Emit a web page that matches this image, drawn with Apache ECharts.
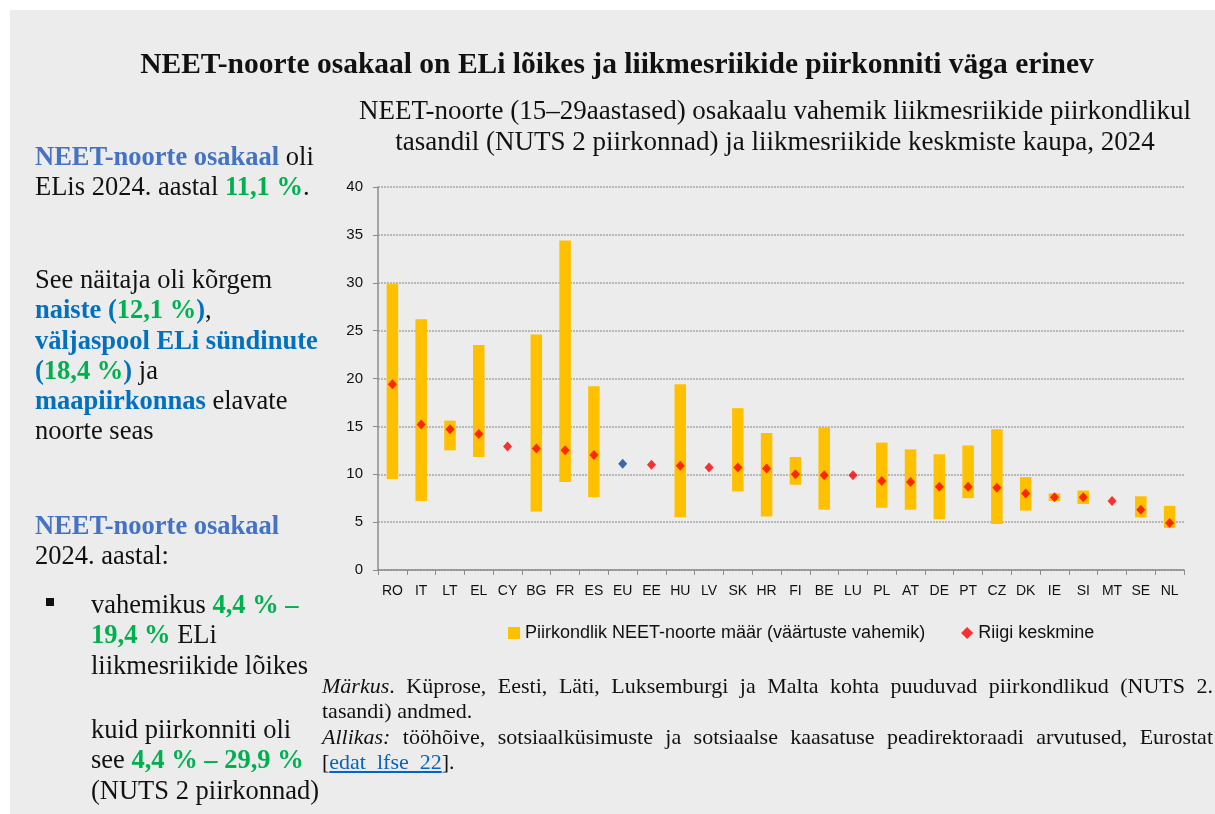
<!DOCTYPE html>
<html lang="et">
<head>
<meta charset="utf-8">
<title>NEET-noorte osakaal</title>
<script src="https://cdn.jsdelivr.net/npm/echarts@6/dist/echarts.min.js"></script>
<style>
    html, body { margin: 0; padding: 0; background: #ffffff; }
    #page { position: absolute; left: 10px; top: 10px; width: 1205px; height: 804px; background: #ececec; }
    #chart-main { position: absolute; left: 0; top: 0; width: 1215px; height: 814px; }
    .side { position: absolute; left: 35px; font-family: 'Liberation Serif', 'Times New Roman', serif; font-size: 26.5px; line-height: 30.3px; color: #111; white-space: nowrap; }
    .lb { color: #4472c4; font-weight: bold; }
    .db { color: #0070c0; font-weight: bold; }
    .gr { color: #00b050; font-weight: bold; }
    .bullet { position: absolute; left: 46px; top: 598px; width: 8px; height: 8px; background: #111; }
    .notes { position: absolute; left: 322px; top: 673px; width: 891px; font-family: 'Liberation Serif', 'Times New Roman', serif; font-size: 22px; line-height: 25.4px; color: #111; text-align: justify; }
    .notes p { margin: 0; }
    .notes a { color: #0563c1; text-decoration: underline; }
</style>
</head>
<body>
<div id="page"></div>
<div id="chart-main"></div>

<div class="side" style="top:141px;">
    <span class="lb">NEET-noorte osakaal</span> oli<br>
    ELis 2024. aastal <span class="gr">11,1 %</span>.
</div>
<div class="side" style="top:264px;">
    See näitaja oli kõrgem<br>
    <span class="db">naiste (</span><span class="gr">12,1 %</span><span class="db">)</span>,<br>
    <span class="db">väljaspool ELi sündinute</span><br>
    <span class="db">(</span><span class="gr">18,4 %</span><span class="db">)</span> ja<br>
    <span class="db">maapiirkonnas</span> elavate<br>
    noorte seas
</div>
<div class="side" style="top:510px;">
    <span class="lb">NEET-noorte osakaal</span><br>
    2024. aastal:
</div>
<div class="bullet"></div>
<div class="side" style="left:91px; top:589px;">
    vahemikus <span class="gr">4,4 % –</span><br>
    <span class="gr">19,4 %</span> ELi<br>
    liikmesriikide lõikes
</div>
<div class="side" style="left:91px; top:714px;">
    kuid piirkonniti oli<br>
    see <span class="gr">4,4 % – 29,9 %</span><br>
    (NUTS 2 piirkonnad)
</div>

<div class="notes">
    <p><i>Märkus</i>. Küprose, Eesti, Läti, Luksemburgi ja Malta kohta puuduvad piirkondlikud (NUTS 2. tasandi) andmed.</p>
    <p><i>Allikas:</i> tööhõive, sotsiaalküsimuste ja sotsiaalse kaasatuse peadirektoraadi arvutused, Eurostat [<a href="#">edat_lfse_22</a>].</p>
</div>

<script>
// categories and values
const countries = ['RO', 'IT', 'LT', 'EL', 'CY', 'BG', 'FR', 'ES', 'EU', 'EE', 'HU', 'LV', 'SK', 'HR', 'FI',
    'BE', 'LU', 'PL', 'AT', 'DE', 'PT', 'CZ', 'DK', 'IE', 'SI', 'MT', 'SE', 'NL'];
// regional minimum / maximum (null = no NUTS 2 data)
const regionMin = [9.5, 7.2, 12.5, 11.8, null, 6.1, 9.2, 7.6, null, null, 5.5, null, 8.2, 5.6, 8.9,
    6.3, null, 6.5, 6.3, 5.3, 7.5, 4.8, 6.2, 7.2, 6.9, null, 5.5, 4.4];
const regionMax = [29.9, 26.2, 15.6, 23.5, null, 24.6, 34.4, 19.2, null, null, 19.4, null, 16.9, 14.3, 11.8,
    14.9, null, 13.3, 12.6, 12.1, 13.0, 14.7, 9.7, 8.0, 8.3, null, 7.7, 6.7];
// national average
const countryAvg = [19.4, 15.2, 14.7, 14.2, 12.9, 12.7, 12.5, 12.0, 11.1, 11.0, 10.9, 10.7, 10.7, 10.6, 10.0,
    9.9, 9.9, 9.3, 9.2, 8.7, 8.7, 8.6, 8.0, 7.6, 7.6, 7.2, 6.3, 4.9];
const yTicks = [0, 5, 10, 15, 20, 25, 30, 35, 40];

const chartDom = document.getElementById('chart-main');
const myChart = echarts.init(chartDom, null, { renderer: 'canvas' });

const axisFont = "'Liberation Sans', Arial, sans-serif";
const serif = "'Liberation Serif', 'Times New Roman', serif";

// floating bars: invisible base up to the regional minimum, then the span to the maximum
const baseData = regionMin.map(v => v === null ? '-' : v);
const spanData = regionMax.map((v, i) => v === null ? '-' : Math.round((v - regionMin[i]) * 10) / 10);

const option = {
    backgroundColor: 'transparent',
    animation: false,
    title: [
        {
            text: 'NEET-noorte osakaal on ELi lõikes ja liikmesriikide piirkonniti väga erinev',
            left: 612, top: 43, textAlign: 'center',
            textStyle: { fontFamily: serif, fontSize: 29.5, fontWeight: 'bold', color: '#111', lineHeight: 34 }
        },
        {
            text: 'NEET-noorte (15–29aastased) osakaalu vahemik liikmesriikide piirkondlikul\ntasandil (NUTS 2 piirkonnad) ja liikmesriikide keskmiste kaupa, 2024',
            left: 770, top: 91, textAlign: 'center',
            textStyle: { fontFamily: serif, fontSize: 27, fontWeight: 'normal', color: '#111', lineHeight: 31 }
        }
    ],
    legend: {
        top: 619, left: 503,
        itemGap: 36,
        itemWidth: 12, itemHeight: 12,
        textStyle: { fontFamily: axisFont, fontSize: 18, color: '#111' },
        data: [
            { name: 'Piirkondlik NEET-noorte määr (väärtuste vahemik)', icon: 'rect' },
            { name: 'Riigi keskmine', icon: 'diamond', itemStyle: { color: '#ff0000' } }
        ]
    },
    grid: { left: 378, top: 187, width: 806, height: 383, containLabel: false },
    xAxis: {
        type: 'category',
        data: countries,
        axisLine: { lineStyle: { color: '#8c8c8c', width: 1.5 } },
        axisTick: { show: true, alignWithLabel: false, length: 5, lineStyle: { color: '#8c8c8c' } },
        axisLabel: { fontFamily: axisFont, fontSize: 14, color: '#111', margin: 14, interval: 0 }
    },
    yAxis: {
        type: 'value',
        min: 0, max: 40, interval: 5,
        axisLine: { show: true, lineStyle: { color: '#8c8c8c', width: 1.5 } },
        axisTick: { show: true, length: 5, lineStyle: { color: '#8c8c8c' } },
        axisLabel: {
            fontFamily: axisFont, fontSize: 15, color: '#111', margin: 15,
            formatter: v => yTicks.includes(v) ? String(v) : ''
        },
        splitLine: { show: true, lineStyle: { color: '#a6a6a6', type: [2, 1], width: 1.5 } }
    },
    series: [
        {
            name: 'base',
            type: 'bar',
            stack: 'range',
            barWidth: 11.5,
            itemStyle: { color: 'transparent' },
            emphasis: { disabled: true },
            data: baseData
        },
        {
            name: 'Piirkondlik NEET-noorte määr (väärtuste vahemik)',
            type: 'bar',
            stack: 'range',
            barWidth: 11.5,
            itemStyle: { color: '#ffc000' },
            data: spanData
        },
        {
            name: 'Riigi keskmine',
            type: 'scatter',
            symbol: 'diamond',
            symbolSize: [9, 10],
            z: 5,
            itemStyle: {
                color: p => p.name === 'EU' ? '#0a4a9a' : '#ff0000'
            },
            data: countryAvg
        }
    ]
};

myChart.setOption(option);
window.addEventListener('resize', () => myChart.resize());
</script>
</body>
</html>
